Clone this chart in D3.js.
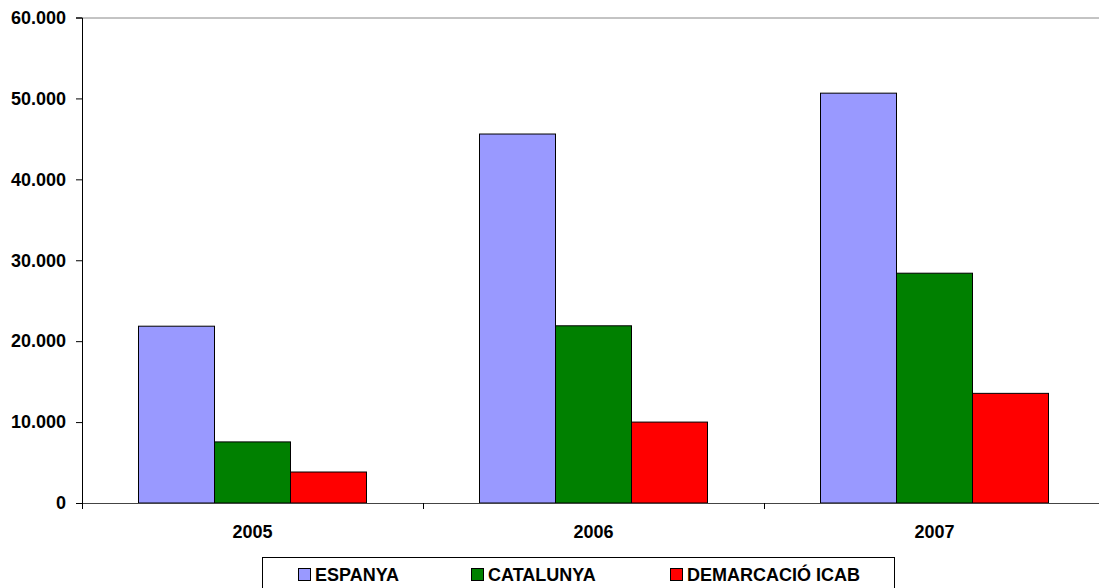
<!DOCTYPE html>
<html>
<head>
<meta charset="utf-8">
<script src="https://cdn.jsdelivr.net/npm/d3@7"></script>
<style>
  body { margin: 0; background: #fff; }
  svg { font-family: "Liberation Sans", Arial, sans-serif; font-weight: bold; }
</style>
</head>
<body>
<div id="chart"></div>
<script>
var years = ['2005', '2006', '2007'];
var seriesNames = ['ESPANYA', 'CATALUNYA', 'DEMARCACIÓ ICAB'];
var espanya = [21850, 45600, 50650];
var catalunya = [7550, 21900, 28400];
var icab = [3830, 10000, 13550];
var yTicks = [0, 10000, 20000, 30000, 40000, 50000, 60000];
var colors = ['#9999ff', '#008000', '#ff0000'];

var W = 1099, H = 588;
var margin = {top: 17.5, left: 82, bottom: 85};
var svg = d3.select('#chart').append('svg')
    .attr('width', W)
    .attr('height', H);

var x = d3.scaleBand()
    .domain(years)
    .range([margin.left, 1105]);

var y = d3.scaleLinear()
    .domain([0, 60000])
    .range([H - margin.bottom, margin.top]);

var groupW = 228;
var xs = d3.scaleBand()
    .domain(seriesNames)
    .range([0, groupW]);

var fmt = d => d3.format(',')(d).replace(/,/g, '.');

// top frame line
svg.append('line')
    .attr('x1', margin.left).attr('x2', W)
    .attr('y1', y(60000) + 0.5).attr('y2', y(60000) + 0.5)
    .attr('stroke', '#888').attr('stroke-width', 1);

// bars
var values = [espanya, catalunya, icab];
seriesNames.forEach((name, si) => {
    svg.append('g').selectAll('rect')
        .data(values[si])
        .join('rect')
        .attr('x', (d, i) => x(years[i]) + (x.bandwidth() - groupW) / 2 + xs(name))
        .attr('y', d => y(d))
        .attr('width', xs.bandwidth())
        .attr('height', d => y(0) - y(d))
        .attr('fill', colors[si])
        .attr('stroke', '#000')
        .attr('stroke-width', 1);
});

// y axis
var yAxis = svg.append('g')
    .attr('transform', 'translate(' + margin.left + ',0)')
    .call(d3.axisLeft(y).tickValues(yTicks).tickFormat(fmt).tickSize(6).tickPadding(10));
yAxis.select('.domain').attr('stroke', '#000');
yAxis.selectAll('.tick line').attr('stroke', '#000');
yAxis.selectAll('text')
    .style('font-size', '18px')
    .style('font-weight', 'bold')
    .attr('fill', '#000');

// x axis
var xAxis = svg.append('g')
    .attr('transform', 'translate(0,' + y(0) + ')')
    .call(d3.axisBottom(x).tickSize(0).tickPadding(22));
xAxis.select('.domain').attr('stroke', '#444');
xAxis.selectAll('text')
    .style('font-size', '18px')
    .style('font-weight', 'bold')
    .attr('fill', '#000');
// category boundary ticks
svg.append('g').selectAll('line')
    .data(years)
    .join('line')
    .attr('x1', d => x(d) + 0.5).attr('x2', d => x(d) + 0.5)
    .attr('y1', y(0)).attr('y2', y(0) + 6)
    .attr('stroke', '#000');

// legend
var legend = svg.append('g');
legend.append('rect')
    .attr('x', 262.5).attr('y', 557.5)
    .attr('width', 632).attr('height', 40)
    .attr('fill', '#fff').attr('stroke', '#000');
var legendX = [298, 471, 670];
seriesNames.forEach((name, i) => {
    var g = legend.append('g').attr('transform', 'translate(' + legendX[i] + ',568)');
    g.append('rect')
        .attr('x', 0.5).attr('y', 0.5)
        .attr('width', 12).attr('height', 12)
        .attr('fill', colors[i]).attr('stroke', '#000');
    g.append('text')
        .attr('x', 17).attr('y', 13)
        .style('font-size', '18px')
        .text(name);
});
</script>
</body>
</html>
